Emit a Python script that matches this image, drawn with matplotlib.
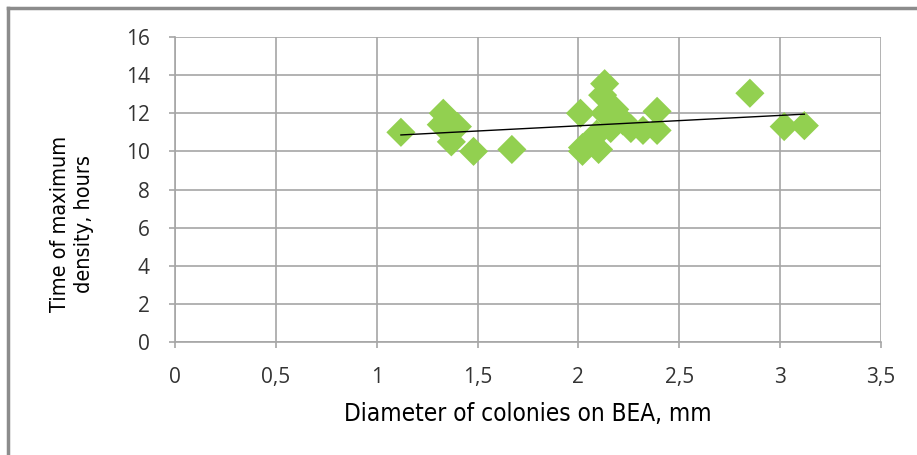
import matplotlib
matplotlib.use("Agg")
import matplotlib.pyplot as plt
import numpy as np

# diameter of colonies (mm) vs time of maximum density (h)
diameter = [1.12, 1.33, 1.32, 1.40, 1.37, 1.48, 1.67,
            2.01, 2.02, 2.10, 2.09, 2.13, 2.12, 2.13, 2.18, 2.16,
            2.02, 2.22, 2.26, 2.32, 2.39, 2.39,
            2.85, 3.02, 3.12]
time_max = [11.0, 12.0, 11.4, 11.3, 10.5, 10.0, 10.1,
            12.0, 10.2, 10.1, 10.9, 13.55, 12.95, 12.0, 12.2, 11.2,
            10.0, 11.6, 11.2, 11.1, 11.1, 12.1,
            13.05, 11.3, 11.35]

x_ticks = [0, 0.5, 1, 1.5, 2, 2.5, 3, 3.5]
x_labels = ["0", "0,5", "1", "1,5", "2", "2,5", "3", "3,5"]
y_ticks = [0, 2, 4, 6, 8, 10, 12, 14, 16]

fig = plt.figure(figsize=(9.17, 4.55), dpi=100)
ax = fig.add_axes([175 / 917, 113 / 455, 706 / 917, 305 / 455])

ax.scatter(diameter, time_max, marker="D", s=220, color="#92D050",
           edgecolors="none", zorder=3)

# linear trend line
k, b = np.polyfit(diameter, time_max, 1)
xs = np.array([min(diameter), max(diameter)])
ax.plot(xs, k * xs + b, color="black", lw=1, zorder=4)

ax.set_xlim(0, 3.5)
ax.set_ylim(0, 16)
ax.set_xticks(x_ticks)
ax.set_xticklabels(x_labels)
ax.set_yticks(y_ticks)
ax.grid(True, color="#a6a6a6", lw=1.2)
ax.set_axisbelow(True)
for s in ["top", "right"]:
    ax.spines[s].set_visible(False)
for s in ["left", "bottom"]:
    ax.spines[s].set_color("#a6a6a6")
    ax.spines[s].set_linewidth(1.2)
ax.tick_params(colors="#a6a6a6", labelcolor="#333333", length=4, width=1.2,
               labelsize=15)
for lab in ax.get_xticklabels() + ax.get_yticklabels():
    lab.set_family("Open Sans")
ax.tick_params(axis="x", pad=14)
ax.tick_params(axis="y", pad=14)

ax.set_xlabel("Diameter of colonies on BEA, mm", fontsize=17.5,
              family="DejaVu Sans", stretch="condensed", labelpad=10)
fig.text(72 / 917, 1 - 224 / 455, "Time of maximum\ndensity, hours",
         rotation=90, ha="center", va="center", fontsize=15.5,
         family="DejaVu Sans", stretch="condensed", linespacing=1.2)

# outer frame (top and left edges only visible)
fig.add_artist(plt.Line2D([8 / 917, 1], [1 - 8 / 455, 1 - 8 / 455],
                          color="#8c8c8c", lw=2.5, transform=fig.transFigure))
fig.add_artist(plt.Line2D([8 / 917, 8 / 917], [0, 1 - 8 / 455],
                          color="#8c8c8c", lw=2.5, transform=fig.transFigure))

fig.savefig("out.png", dpi=100)
